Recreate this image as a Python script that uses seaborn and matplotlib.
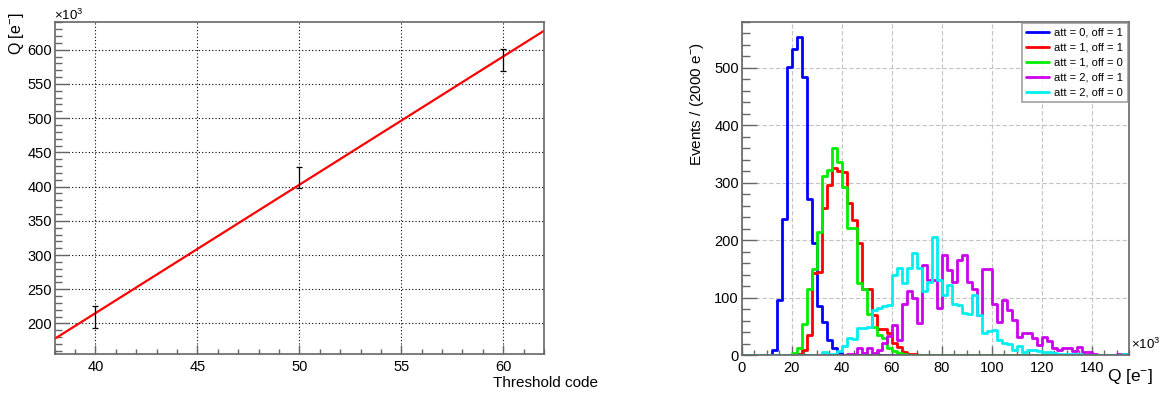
import numpy as np
import matplotlib.pyplot as plt
import seaborn as sns
from matplotlib.ticker import MultipleLocator
from matplotlib.lines import Line2D

sns.set_style('ticks')
plt.rcParams['font.family'] = ['Liberation Sans', 'DejaVu Sans']
plt.rcParams['mathtext.default'] = 'regular'
plt.rcParams['text.color'] = 'black'
plt.rcParams['xtick.labelcolor'] = 'black'
plt.rcParams['ytick.labelcolor'] = 'black'

# Left panel: threshold calibration (Q in units of 10^3 e-)
threshold_code = [40, 50, 60]
q_measured = [210, 413, 585]
q_error = [16, 15, 16]

# Right panel: charge spectra, 2000 e- bins (Q in units of 10^3 e-)
bin_width = 2
n_bins = 78

series_labels = ['att = 0, off = 1', 'att = 1, off = 1', 'att = 1, off = 0',
                 'att = 2, off = 1', 'att = 2, off = 0']
series_colors = ['#0000ff', '#ff0000', '#00ee00', '#cc00ee', '#00f0f0']

# first bin edge of each series, then counts per bin
blue_start = 12
blue_counts = [9, 97, 237, 501, 533, 554, 483, 272, 195, 85, 58, 27, 13, 4, 1]

red_start = 22
red_counts = [3, 10, 35, 143, 145, 256, 296, 325, 321, 318, 265, 235, 196, 116,
              116, 70, 45, 45, 39, 21, 15, 5, 3, 2, 1]

green_start = 20
green_counts = [4, 13, 54, 116, 150, 215, 312, 322, 360, 336, 293, 222, 222, 126,
                115, 72, 50, 35, 30, 13, 8, 4, 2, 1]

magenta_start = 40
magenta_counts = [1, 3, 2, 12, 4, 12, 4, 9, 22, 33, 53, 27, 90, 111, 100, 56, 157,
                  131, 131, 83, 174, 148, 128, 166, 174, 128, 115, 70, 150, 150,
                  90, 58, 96, 79, 61, 32, 39, 39, 30, 18, 32, 24, 12, 10, 13, 13,
                  7, 15, 5, 5, 2, 1, 1, 0, 1, 3, 2, 0]

cyan_start = 32
cyan_counts = [5, 2, 2, 8, 17, 30, 28, 47, 48, 50, 79, 82, 85, 87, 140, 151, 125,
               152, 177, 151, 112, 128, 206, 131, 105, 122, 90, 88, 73, 72, 105,
               70, 39, 42, 44, 27, 21, 20, 10, 16, 6, 10, 10, 8, 6, 5, 4, 3, 3,
               2, 2, 2, 1, 1, 1, 1, 1, 1, 1, 1, 2, 1]

series_starts = [blue_start, red_start, green_start, magenta_start, cyan_start]
series_counts = [blue_counts, red_counts, green_counts, magenta_counts, cyan_counts]

fig = plt.figure(figsize=(11.69, 3.96), dpi=100)
ax1 = fig.add_axes([0.0468, 0.1053, 0.4186, 0.8384])
ax2 = fig.add_axes([0.6345, 0.1028, 0.3315, 0.8424])

frame_color = '#666666'

# ---- left panel
ax1.set_xlim(38, 62)
ax1.set_ylim(155, 640)
ax1.errorbar(threshold_code, q_measured, yerr=q_error, fmt='none',
             ecolor='black', elinewidth=0.9, capsize=2, capthick=0.9, zorder=3)
sns.regplot(x=threshold_code, y=q_measured, ci=None, scatter=False,
            truncate=False, color='red', line_kws={'lw': 1.6}, ax=ax1)
ax1.set_xlim(38, 62)
ax1.set_ylim(155, 640)
ax1.set_xlabel('')
ax1.set_ylabel('')
ax1.xaxis.set_major_locator(MultipleLocator(5))
ax1.xaxis.set_minor_locator(MultipleLocator(1))
ax1.yaxis.set_major_locator(MultipleLocator(50))
ax1.yaxis.set_minor_locator(MultipleLocator(10))
ax1.grid(True, which='major', color='black', linestyle=(0, (1, 2)),
         linewidth=0.8)
ax1.tick_params(axis='x', which='major', direction='in', length=6.5, width=1,
                color=frame_color, labelsize=10.5, pad=4)
ax1.tick_params(axis='x', which='minor', direction='in', length=3.5, width=1,
                color=frame_color)
ax1.tick_params(axis='y', which='major', direction='in', length=10, width=1,
                color=frame_color, labelsize=10.5, pad=2)
ax1.tick_params(axis='y', which='minor', direction='in', length=5, width=1,
                color=frame_color)

# ---- right panel
edges = np.arange(0, n_bins * bin_width + 1, bin_width)
centers = edges[:-1] + bin_width / 2
for start, counts, color in zip(series_starts, series_counts, series_colors):
    full = np.zeros(n_bins)
    i0 = start // bin_width
    full[i0:i0 + len(counts)] = counts
    sns.histplot(x=centers, weights=full, binwidth=bin_width,
                 binrange=(edges[0], edges[-1]), element='step',
                 fill=False, color=color, linewidth=2.0, ax=ax2)
ax2.set_xlim(0, 155)
ax2.set_ylim(0, 580)
ax2.set_xlabel('')
ax2.set_ylabel('')
ax2.xaxis.set_major_locator(MultipleLocator(20))
ax2.xaxis.set_minor_locator(MultipleLocator(5))
ax2.yaxis.set_major_locator(MultipleLocator(100))
ax2.yaxis.set_minor_locator(MultipleLocator(20))
ax2.grid(True, which='major', color='#c4c4c4', linestyle=(0, (4, 2)),
         linewidth=0.8)
ax2.tick_params(axis='x', which='major', direction='in', length=6.5, width=1,
                color=frame_color, labelsize=10.5, pad=4)
ax2.tick_params(axis='x', which='minor', direction='in', length=3.5, width=1,
                color=frame_color)
ax2.tick_params(axis='y', which='major', direction='in', length=11, width=1,
                color=frame_color, labelsize=10.5, pad=2)
ax2.tick_params(axis='y', which='minor', direction='in', length=5.5, width=1,
                color=frame_color)

handles = [Line2D([], [], color=c, lw=2.0) for c in series_colors]
leg = ax2.legend(handles, series_labels, loc='upper right', fontsize=8,
                 frameon=True, fancybox=False, borderaxespad=0.15,
                 handlelength=2.0, handletextpad=0.5, labelspacing=0.45,
                 borderpad=0.4)
leg.get_frame().set_edgecolor('#888888')
leg.get_frame().set_linewidth(1.2)

for ax in (ax1, ax2):
    ax.set_axisbelow(True)
    for side in ax.spines.values():
        side.set_visible(True)
        side.set_color(frame_color)
        side.set_linewidth(1.2)

# axis titles and exponent labels, ROOT style
fig.text(17 / 1169, 1 - 12 / 396, 'Q [e$^{-}$]', rotation=90, ha='center',
         va='top', fontsize=11.5)
fig.text(54 / 1169, 1 - 15 / 396, '×10$^{3}$', ha='left', va='center',
         fontsize=9.5)
fig.text(493 / 1169, 1 - 383 / 396, 'Threshold code', ha='left',
         va='center', fontsize=11)
fig.text(697 / 1169, 1 - 42 / 396, 'Events / (2000 e$^{-}$)', rotation=90,
         ha='center', va='top', fontsize=11)
fig.text(1131 / 1169, 1 - 344 / 396, '×10$^{3}$', ha='left', va='center',
         fontsize=9.5)
fig.text(1153 / 1169, 1 - 376 / 396, 'Q [e$^{-}$]', ha='right', va='center',
         fontsize=12.5)

fig.savefig('out.png', dpi=100)
